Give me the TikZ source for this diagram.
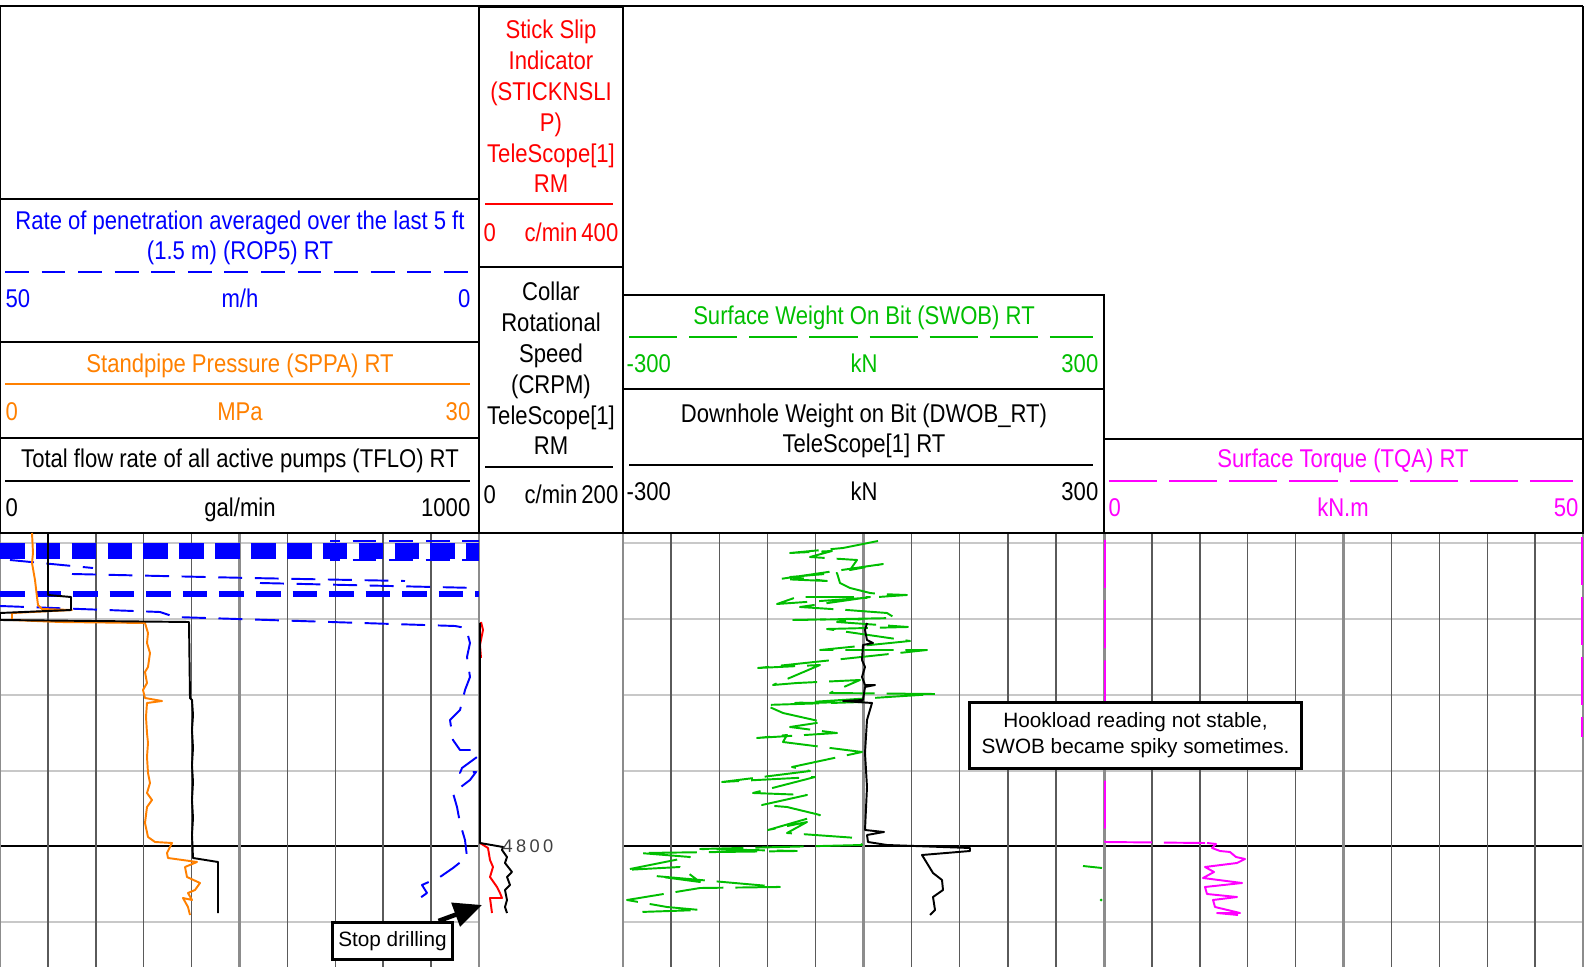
\documentclass[tikz,border=0pt]{standalone}
\usepackage{fontspec}
\setmainfont{Liberation Sans}
\newfontfamily\narrowfont{Liberation Sans}[FakeStretch=0.86]
\usetikzlibrary{arrows.meta}
%
\definecolor{ropblue}{RGB}{0,0,255}
\definecolor{sppaorange}{RGB}{255,128,0}
\definecolor{swobgreen}{RGB}{0,190,0}
\definecolor{tqapink}{RGB}{255,0,255}
\definecolor{sslred}{RGB}{255,0,0}
\definecolor{gridline}{RGB}{90,90,90}
\definecolor{trackline}{RGB}{140,140,140}
\definecolor{depthline}{RGB}{200,200,200}
%
\tikzset{
  hdr/.style={font=\narrowfont\fontsize{7.3}{8.8}\selectfont, inner sep=0pt, anchor=base, align=center},
  hdrbox/.style={draw=black, line width=0.45pt},
  curve/.style={line width=0.55pt, line join=round},
  ropdash/.style={dash pattern=on 6.8pt off 3.6pt},
  longdash/.style={dash pattern=on 13.7pt off 3.4pt},
  note/.style={draw=black, line width=0.85pt, fill=white, inner sep=0pt, align=center,
    font=\fontsize{5.9}{7.4}\selectfont},
}
%
\begin{document}
\begin{tikzpicture}[x=0.01cm, y=-0.01cm]
\useasboundingbox (0,0) rectangle (1584,967);
%
%''''''''''''''''''''''''''''track borders (px)''''''''''''''''''''''''''''''''''''''''''''''''''''
\def\tA{0}      % ROP / SPPA / TFLO
\def\tB{479}    % STICKNSLIP / CRPM
\def\tC{623}    % SWOB / DWOB
\def\tD{1104}   % TQA
\def\tE{1583}
%''''''''''''''''''''''''''''''''''''''''''''''''''''''''''''''''''''''''''''''''''''''''''''''''''
%
% depth lines
\foreach \d in {543,619,695,771,922}{
  \draw[depthline, line width=0.45pt] (\tA,\d) -- (\tB,\d) (\tC,\d) -- (\tE,\d);
}
\draw[black, line width=0.45pt] (\tA,846) -- (\tB,846) (\tC,846) -- (\tE,846);
%
% vertical grid
\foreach \i in {1,2,3,4,6,7,8,9}{
  \draw[gridline, line width=0.4pt] ({\tA+47.9*\i},533) -- ({\tA+47.9*\i},967);
  \draw[gridline, line width=0.4pt] ({\tC+48.1*\i},533) -- ({\tC+48.1*\i},967);
  \draw[gridline, line width=0.4pt] ({\tD+47.9*\i},533) -- ({\tD+47.9*\i},967);
}
\foreach \x in {\tA,\tB,\tC,\tD,\tE,239.5,863.5,1343.5}{
  \draw[trackline, line width=0.85pt] (\x,533) -- (\x,967);
}
%
% header frame
\draw[hdrbox] (\tA,6) -- (\tE,6) (\tA,6) -- (\tA,533) (\tE,6) -- (\tE,533);
\draw[hdrbox] (\tA,199) rectangle (\tB,533) (\tA,342) -- (\tB,342) (\tA,438) -- (\tB,438);
\draw[hdrbox] (\tB,7) rectangle (\tC,533) (\tB,267) -- (\tC,267);
\draw[hdrbox] (\tC,295) rectangle (\tD,533) (\tC,389) -- (\tD,389);
\draw[hdrbox] (\tD,439) rectangle (\tE,533);
\draw[hdrbox] (\tA,533) -- (\tE,533);
%
% ROP header (multi-line nodes sit on their last baseline)
\node[hdr, ropblue] (roptitle) at (240,260) {Rate of penetration averaged over the last 5 ft\\(1.5 m) (ROP5) RT};
\draw[curve, ropblue, ropdash] (5,272) -- (470,272);
\node[hdr, ropblue, anchor=base west] (ropmin) at (5,308) {50};
\node[hdr, ropblue] (ropunit) at (240,308) {m/h};
\node[hdr, ropblue, anchor=base east] (ropmax) at (471,308) {0};
% SPPA header
\node[hdr, sppaorange] (sppatitle) at (240,373) {Standpipe Pressure (SPPA) RT};
\draw[curve, sppaorange] (5,384) -- (470,384);
\node[hdr, sppaorange, anchor=base west] (sppamin) at (5,421) {0};
\node[hdr, sppaorange] (sppaunit) at (240,421) {MPa};
\node[hdr, sppaorange, anchor=base east] (sppamax) at (471,421) {30};
% TFLO header
\node[hdr] (tflotitle) at (240,468) {Total flow rate of all active pumps (TFLO) RT};
\draw[curve] (5,481) -- (470,481);
\node[hdr, anchor=base west] (tflomin) at (5,517) {0};
\node[hdr] (tflounit) at (240,517) {gal/min};
\node[hdr, anchor=base east] (tflomax) at (471,517) {1000};
%
% STICKNSLIP header
\node[hdr, sslred] (ssltitle) at (551,193) {Stick Slip\\Indicator\\(STICKNSLI\\P)\\TeleScope[1]\\RM};
\draw[curve, sslred] (485,204) -- (613,204);
\node[hdr, sslred, anchor=base west] (sslmin) at (483,242) {0};
\node[hdr, sslred] (sslunit) at (551,242) {c/min};
\node[hdr, sslred, anchor=base east] (sslmax) at (619,242) {400};
% CRPM header
\node[hdr] (crpmtitle) at (551,455) {Collar\\Rotational\\Speed\\(CRPM)\\TeleScope[1]\\RM};
\draw[curve] (485,467) -- (613,467);
\node[hdr, anchor=base west] (crpmmin) at (483,504) {0};
\node[hdr] (crpmunit) at (551,504) {c/min};
\node[hdr, anchor=base east] (crpmmax) at (619,504) {200};
%
% SWOB header
\node[hdr, swobgreen] (swobtitle) at (864,325) {Surface Weight On Bit (SWOB) RT};
\draw[curve, swobgreen, longdash] (629,337) -- (1093,337);
\node[hdr, swobgreen, anchor=base west] (swobmin) at (626,373) {-300};
\node[hdr, swobgreen] (swobunit) at (864,373) {kN};
\node[hdr, swobgreen, anchor=base east] (swobmax) at (1099,373) {300};
% DWOB header
\node[hdr] (dwobtitle) at (864,453) {Downhole Weight on Bit (DWOB\_RT)\\TeleScope[1] RT};
\draw[curve] (629,465) -- (1093,465);
\node[hdr, anchor=base west] (dwobmin) at (626,501) {-300};
\node[hdr] (dwobunit) at (864,501) {kN};
\node[hdr, anchor=base east] (dwobmax) at (1099,501) {300};
%
% TQA header
\node[hdr, tqapink] (tqatitle) at (1343,468) {Surface Torque (TQA) RT};
\draw[curve, tqapink, longdash] (1109,481) -- (1573,481);
\node[hdr, tqapink, anchor=base west] (tqamin) at (1108,517) {0};
\node[hdr, tqapink] (tqaunit) at (1343,517) {kN.m};
\node[hdr, tqapink, anchor=base east] (tqamax) at (1579,517) {50};
%
% ROP curve
\draw[ropblue, line width=4.8pt, dash pattern=on 7pt off 3.2pt] (0,551) -- (479,551);
\draw[curve, ropblue, ropdash, dash phase=4pt] (330,541) -- (479,541) (330,560) -- (479,560);
\draw[curve, ropblue, ropdash] (10,560) -- (93,568);
\draw[curve, ropblue, ropdash] (72,574) -- (250,578) -- (405,581);
\draw[curve, ropblue, ropdash] (260,583) -- (477,588);
\draw[ropblue, line width=1.7pt, dash pattern=on 7pt off 3.4pt] (0,594) -- (479,594);
\draw[curve, ropblue, ropdash] (0,606) -- (160,612) -- (175,617) -- (455,626) -- (466,628) -- (470,643)
  -- (467,657) -- (470,677) -- (465,690) -- (460,710) -- (450,720) -- (453,740) -- (460,750)
  -- (476,750) -- (477,757) -- (462,768) -- (460,773) -- (476,772) -- (470,780) -- (453,793)
  -- (457,807) -- (460,823) -- (465,840) -- (467,857) -- (453,868) -- (440,877) -- (422,885)
  -- (427,893) -- (420,898) -- (428,903);
%
% SPPA curve
\draw[curve, sppaorange] (32,533) -- (33,553) -- (32,563) -- (35,580) -- (37,597) -- (38,605)
  -- (42,609) -- (72,610) -- (12,613) -- (12,620) -- (60,622) -- (145,623) -- (148,633)
  -- (147,643) -- (150,653) -- (148,667) -- (145,672) -- (147,683) -- (143,690) -- (145,698)
  -- (162,701) -- (147,703) -- (146,717) -- (147,733) -- (148,743) -- (147,757) -- (148,773)
  -- (150,783) -- (147,793) -- (152,800) -- (147,807) -- (145,823) -- (148,837) -- (155,842)
  -- (172,843) -- (167,853) -- (168,858) -- (197,862) -- (185,867) -- (187,877) -- (200,883)
  -- (195,890) -- (188,893) -- (192,900) -- (183,898) -- (188,907) -- (190,915);
%
% TFLO curve
\draw[curve] (48,533) -- (48,595) -- (71,597) -- (71,610) -- (0,613) -- (0,620) -- (189,622)
  -- (190,698) -- (192,700) -- (193,715) -- (192,730) -- (193,748) -- (192,765) -- (193,782)
  -- (192,800) -- (193,818) -- (192,835) -- (193,858) -- (218,862) -- (218,913);
%
% STICKNSLIP and CRPM curves
\draw[curve, sslred] (481,622) -- (483,630) -- (480,645) -- (481,658);
\draw[curve, sslred] (480,843) -- (488,848) -- (490,860) -- (493,867) -- (490,877) -- (497,887)
  -- (500,893) -- (502,898) -- (490,898) -- (492,913);
\draw[curve] (480,623) -- (480,843) -- (503,847) -- (502,850) -- (507,857) -- (505,863)
  -- (512,872) -- (507,877) -- (510,885) -- (505,890) -- (507,900) -- (505,907) -- (507,913);
\node[font=\fontsize{5.2}{6}\selectfont\addfontfeature{LetterSpace=18}, text=black!75,
  anchor=west, inner sep=0pt] (depthlabel) at (502,846) {4800};
%
% SWOB curve
\draw[curve, swobgreen, longdash] (878,541) -- (843,548) -- (790,553) -- (832,551) -- (810,557)
  -- (857,560) -- (850,570) -- (883,564) -- (780,579) -- (827,581) -- (790,577) -- (837,573)
  -- (840,583) -- (850,588) -- (870,593) -- (880,594) -- (907,595) -- (777,604) -- (797,597)
  -- (870,597) -- (800,607) -- (847,610) -- (887,613) -- (895,618) -- (793,620) -- (863,619)
  -- (837,622) -- (908,627) -- (827,629) -- (910,641) -- (820,650) -- (927,650) -- (758,668)
  -- (820,665) -- (773,685) -- (797,683) -- (860,680) -- (830,693) -- (935,694) -- (795,703)
  -- (863,702) -- (765,705) -- (783,713) -- (823,722) -- (790,727) -- (837,733) -- (757,738)
  -- (787,735) -- (783,742) -- (862,752) -- (792,767) -- (810,771) -- (722,782) -- (757,780)
  -- (815,777) -- (753,793) -- (807,795) -- (762,805) -- (787,807) -- (820,815) -- (768,830)
  -- (807,822) -- (787,833) -- (857,838) -- (862,845) -- (700,849) -- (797,851) -- (640,853)
  -- (690,857) -- (625,870) -- (680,867) -- (700,882) -- (655,876) -- (780,887) -- (700,888)
  -- (627,900) -- (667,907) -- (700,910) -- (640,912) -- (632,915);
\draw[curve, swobgreen] (1083,866) -- (1102,868);
\fill[swobgreen] (1101,900) circle (1.5);
%
% DWOB curve
\draw[curve] (867,623) -- (865,630) -- (867,640) -- (873,643) -- (863,645) -- (862,660) -- (865,667)
  -- (862,677) -- (865,685) -- (875,685) -- (865,687) -- (863,700) -- (843,701) -- (872,703)
  -- (867,720) -- (865,753) -- (867,787) -- (865,830) -- (884,832) -- (867,835) -- (868,842)
  -- (887,845) -- (970,848) -- (970,851) -- (922,855) -- (933,873) -- (942,880) -- (943,890)
  -- (933,897) -- (935,910) -- (930,915);
%
% TQA curve
\draw[curve, tqapink, longdash] (1105,540) -- (1105,842) -- (1205,843);
\draw[curve, tqapink] (1207,843) -- (1216,844) -- (1212,848) -- (1220,851) -- (1230,852) -- (1236,857)
  -- (1245,859) -- (1237,863) -- (1205,867) -- (1214,872) -- (1203,878) -- (1242,883) -- (1205,887)
  -- (1207,894) -- (1237,897) -- (1213,900) -- (1215,907) -- (1240,913) -- (1217,913) -- (1238,915);
\draw[curve, tqapink, longdash] (1582,537) -- (1582,737);
%
% notes
\node[note, minimum width=3.31cm, minimum height=0.65cm] (hookload) at (1135.5,735.5)
  {Hookload reading not stable,\\SWOB became spiky sometimes.};
\node[note, minimum width=1.19cm, minimum height=0.37cm] (stopnote) at (392.5,941) {Stop drilling};
\coordinate (stoptip) at (482,905);
\draw[line width=1.3pt, -{Triangle[length=8pt,width=7pt]}] ([xshift=-0.15cm]stopnote.north east) -- (stoptip);
%
\end{tikzpicture}
\end{document}
